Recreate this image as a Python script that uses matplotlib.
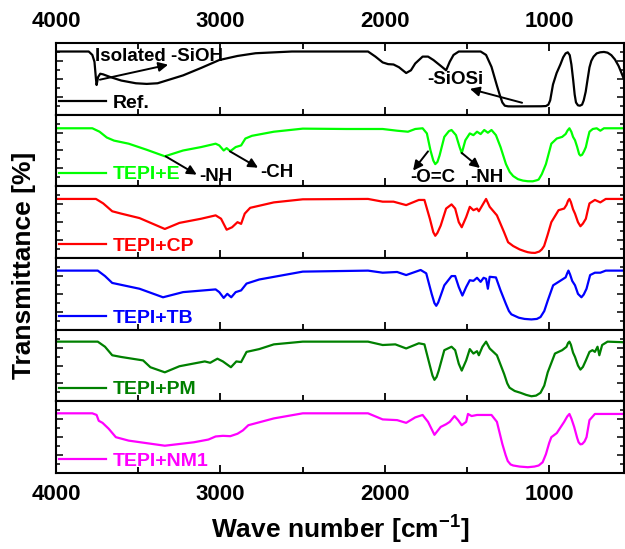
import matplotlib
matplotlib.use('Agg')
import matplotlib.pyplot as plt
from matplotlib.ticker import MultipleLocator
import numpy as np

plt.rcParams['font.family'] = ['Liberation Sans', 'DejaVu Sans']
plt.rcParams['font.weight'] = 'bold'
plt.rcParams['mathtext.fontset'] = 'custom'
plt.rcParams['mathtext.rm'] = 'Liberation Sans:bold'
plt.rcParams['mathtext.bf'] = 'Liberation Sans:bold'

# FTIR spectra as (wavenumber [cm-1], transmittance [arb. %]) pairs
ref = [(4000, 88.1), (3801, 88.1), (3779, 83.3), (3766, 73.8), (3757, 50.0), (3753, 41.4),
       (3744, 52.4), (3731, 57.1), (3713, 56.2), (3669, 52.4), (3603, 47.6), (3514, 43.8),
       (3448, 42.9), (3382, 43.8), (3227, 54.8), (3117, 65.2), (3007, 76.2), (2896, 81.9),
       (2786, 85.7), (2565, 88.1), (2102, 88.1), (2057, 81.0), (2013, 72.9), (1980, 70.5),
       (1947, 70.0), (1914, 66.2), (1870, 58.1), (1841, 61.9), (1815, 71.4), (1770, 81.0),
       (1737, 81.0), (1704, 76.2), (1660, 68.1), (1627, 61.9), (1605, 73.8), (1582, 83.3),
       (1550, 88.1), (1417, 88.1), (1384, 83.3), (1351, 66.7), (1330, 50.0), (1318, 40.5),
       (1300, 27.0), (1285, 17.0), (1270, 12.5), (1250, 11.6), (1219, 11.5), (1150, 11.6),
       (1050, 11.7), (1020, 12.0), (1005, 14.0), (994, 20.0), (977, 42.0), (955, 58.0),
       (932, 70.0), (915, 80.0), (900, 85.5), (887, 87.0), (875, 83.0), (865, 70.0),
       (854, 48.0), (845, 28.0), (837, 17.0), (825, 13.0), (813, 12.5), (800, 14.0),
       (790, 20.0), (778, 32.0), (766, 50.0), (755, 66.0), (744, 75.0), (730, 81.0),
       (711, 85.5), (690, 87.0), (667, 87.5), (645, 86.5), (622, 83.0), (600, 77.0),
       (578, 68.0), (560, 58.0), (539, 46.0)]

tepi_e = [(4000, 81.0), (3779, 81.0), (3735, 76.2), (3691, 68.1), (3647, 63.8), (3558, 59.5),
          (3448, 51.0), (3338, 41.9), (3227, 50.0), (3117, 54.8), (3029, 59.5), (3007, 57.1),
          (2980, 50.0), (2962, 53.3), (2940, 49.0), (2907, 54.8), (2874, 57.1), (2848, 66.7),
          (2808, 70.5), (2675, 76.2), (2499, 80.5), (2234, 80.0), (2013, 80.0), (1925, 77.6),
          (1859, 76.2), (1815, 80.0), (1770, 81.0), (1744, 73.8), (1722, 50.0), (1705, 36.0),
          (1693, 31.0), (1680, 34.0), (1667, 42.9), (1638, 69.0), (1610, 77.0), (1594, 78.6),
          (1567, 71.4), (1545, 54.8), (1532, 46.2), (1510, 64.3), (1483, 73.8), (1461, 71.4),
          (1439, 76.2), (1417, 72.9), (1395, 78.6), (1373, 74.8), (1351, 78.6), (1324, 71.4),
          (1296, 54.8), (1263, 31.0), (1240, 20.0), (1219, 14.3), (1190, 10.0), (1160, 8.0),
          (1130, 7.1), (1100, 7.0), (1075, 8.5), (1064, 9.5), (1045, 17.0), (1020, 31.0),
          (987, 59.5), (954, 66.7), (921, 69.0), (900, 73.0), (888, 78.0), (877, 81.0),
          (865, 76.0), (855, 69.0), (843, 64.3), (830, 55.0), (818, 45.0), (810, 42.9),
          (800, 44.0), (788, 49.0), (777, 54.8), (766, 66.0), (755, 76.2), (735, 80.0),
          (711, 81.0), (689, 77.6), (667, 81.0), (539, 81.0)]

tepi_cp = [(4000, 82.4), (3757, 82.4), (3713, 76.2), (3658, 65.2), (3603, 61.9), (3492, 55.7),
           (3338, 40.5), (3249, 49.0), (3117, 54.8), (3029, 59.5), (2996, 54.8), (2962, 39.5),
           (2929, 42.9), (2896, 50.0), (2874, 47.6), (2852, 61.9), (2819, 70.0), (2675, 77.6),
           (2499, 81.9), (2102, 82.4), (2013, 78.6), (1947, 78.6), (1870, 73.8), (1793, 81.0),
           (1759, 81.0), (1726, 54.8), (1705, 36.0), (1693, 31.0), (1680, 35.0), (1660, 45.2),
           (1627, 69.0), (1594, 74.8), (1572, 69.0), (1550, 50.0), (1532, 42.9), (1505, 57.1),
           (1483, 71.4), (1461, 66.7), (1439, 69.0), (1428, 65.2), (1406, 73.8), (1384, 82.4),
           (1362, 71.4), (1318, 59.5), (1274, 35.7), (1250, 22.0), (1219, 16.7), (1180, 12.0),
           (1150, 9.5), (1130, 8.1), (1108, 7.3), (1086, 7.1), (1060, 9.0), (1045, 12.0),
           (1031, 16.7), (1010, 32.0), (987, 50.0), (943, 66.7), (909, 69.0), (895, 74.0),
           (885, 80.0), (877, 82.4), (868, 78.0), (855, 68.0), (843, 61.9), (825, 50.0),
           (810, 44.3), (795, 48.0), (777, 54.8), (766, 66.0), (755, 76.2), (722, 81.0),
           (689, 77.6), (656, 82.4), (539, 82.4)]

tepi_tb = [(4000, 82.4), (3746, 82.4), (3702, 74.8), (3658, 65.2), (3492, 57.1), (3349, 45.2),
           (3227, 52.4), (3029, 56.2), (3007, 52.4), (2980, 44.3), (2958, 50.0), (2934, 45.2),
           (2907, 52.4), (2874, 54.8), (2841, 64.3), (2764, 70.0), (2499, 81.0), (2102, 82.4),
           (2013, 79.5), (1925, 80.5), (1870, 76.2), (1782, 83.3), (1748, 78.6), (1715, 50.0),
           (1698, 37.0), (1687, 33.3), (1675, 38.0), (1660, 47.6), (1638, 61.9), (1594, 74.8),
           (1572, 74.8), (1550, 59.5), (1528, 47.6), (1505, 59.5), (1483, 69.0), (1461, 68.1),
           (1439, 72.4), (1417, 66.7), (1399, 72.4), (1384, 71.0), (1373, 57.1), (1362, 73.8),
           (1324, 72.9), (1296, 54.8), (1263, 35.7), (1245, 26.0), (1230, 21.4), (1185, 16.7),
           (1150, 15.0), (1108, 14.3), (1075, 15.0), (1053, 17.6), (1030, 26.0), (1009, 40.5),
           (976, 61.9), (943, 66.7), (900, 73.0), (890, 79.0), (883, 82.4), (873, 77.0),
           (860, 68.0), (843, 61.9), (825, 50.0), (804, 45.2), (790, 49.0), (773, 57.1),
           (751, 76.2), (722, 79.5), (689, 79.5), (656, 82.4), (539, 82.4)]

tepi_pm = [(4000, 83.3), (3746, 83.3), (3702, 76.2), (3658, 64.3), (3603, 61.9), (3470, 57.1),
           (3426, 47.6), (3338, 40.5), (3249, 49.0), (3095, 55.7), (3062, 53.8), (3040, 56.7),
           (3018, 59.5), (2985, 55.7), (2936, 47.6), (2903, 55.7), (2874, 54.8), (2841, 69.0),
           (2764, 72.9), (2675, 79.5), (2499, 83.3), (2102, 83.3), (2013, 78.6), (1936, 79.5),
           (1870, 73.8), (1793, 81.0), (1759, 79.5), (1726, 50.0), (1710, 36.0), (1698, 30.0),
           (1685, 34.0), (1672, 42.9), (1638, 71.4), (1594, 76.2), (1572, 71.4), (1550, 52.4),
           (1532, 42.9), (1505, 57.1), (1483, 72.9), (1461, 66.7), (1439, 70.0), (1428, 64.3),
           (1406, 76.2), (1384, 83.3), (1362, 73.8), (1318, 64.3), (1274, 38.1), (1255, 25.0),
           (1241, 19.0), (1210, 14.5), (1174, 11.9), (1140, 9.0), (1108, 7.1), (1080, 8.0),
           (1053, 11.9), (1030, 22.0), (1009, 40.5), (965, 66.7), (921, 71.4), (895, 76.0),
           (885, 81.5), (877, 83.3), (868, 79.0), (855, 68.0), (843, 61.9), (825, 50.0),
           (810, 44.3), (795, 48.0), (777, 57.1), (755, 69.0), (737, 71.4), (722, 69.0),
           (706, 76.2), (695, 64.3), (678, 78.6), (645, 83.3), (539, 82.4)]

tepi_nm1 = [(4000, 83.3), (3779, 83.3), (3753, 81.0), (3740, 72.9), (3717, 70.0), (3680, 61.9),
            (3636, 50.0), (3558, 45.2), (3338, 38.1), (3161, 42.9), (3073, 46.7), (3029, 51.0),
            (2985, 51.9), (2940, 51.4), (2896, 54.8), (2863, 59.5), (2830, 66.7), (2675, 76.2),
            (2499, 83.3), (2102, 83.3), (2013, 74.8), (1925, 73.8), (1870, 70.0), (1815, 77.6),
            (1770, 81.0), (1737, 71.4), (1698, 53.3), (1660, 64.3), (1627, 68.1), (1605, 71.4),
            (1576, 79.5), (1554, 73.8), (1532, 66.7), (1505, 71.4), (1494, 82.4), (1472, 79.5),
            (1439, 81.0), (1351, 81.0), (1318, 71.4), (1285, 40.5), (1265, 25.0), (1252, 16.7),
            (1235, 12.0), (1219, 10.5), (1180, 9.0), (1130, 8.1), (1090, 9.0), (1064, 10.5),
            (1040, 15.0), (1020, 26.2), (1000, 42.0), (987, 50.0), (954, 55.7), (909, 71.4),
            (890, 79.0), (877, 82.4), (865, 76.0), (848, 64.3), (830, 49.0), (821, 42.9),
            (810, 40.0), (799, 40.5), (785, 44.0), (773, 50.0), (755, 73.8), (722, 82.4),
            (539, 82.4)]

labels = ['Ref.', 'TEPI+E', 'TEPI+CP', 'TEPI+TB', 'TEPI+PM', 'TEPI+NM1']
colors = ['black', '#00ff00', '#ff0000', '#0000ff', '#008000', '#ff00ff']
spectra = [ref, tepi_e, tepi_cp, tepi_tb, tepi_pm, tepi_nm1]

fig, axes = plt.subplots(6, 1, sharex=True, figsize=(6.25, 5.49), dpi=100,
                         gridspec_kw=dict(hspace=0))
fig.subplots_adjust(left=0.0896, right=0.9984, bottom=0.1384, top=0.9217)

for i, ax in enumerate(axes):
    wn, t = np.array(spectra[i]).T
    ax.plot(wn, t, color=colors[i], lw=1.6, label=labels[i], solid_joinstyle='round')
    ax.set_xlim(4000, 545)
    ax.set_ylim(0, 100)
    ax.xaxis.set_major_locator(MultipleLocator(1000))
    ax.xaxis.set_minor_locator(MultipleLocator(500))
    ax.yaxis.set_major_locator(MultipleLocator(25))
    ax.yaxis.set_minor_locator(MultipleLocator(12.5))
    ax.tick_params(axis='x', which='both', direction='in', top=(i == 0), bottom=True,
                   labeltop=(i == 0), labelbottom=(i == 5), labelsize=16, pad=8, width=1.3)
    ax.tick_params(axis='x', which='major', length=6)
    ax.tick_params(axis='x', which='minor', length=4)
    ax.tick_params(axis='y', which='both', direction='in', left=True, right=True,
                   labelleft=False, width=1.1)
    ax.tick_params(axis='y', which='major', length=5)
    ax.tick_params(axis='y', which='minor', length=3)
    for s in ax.spines.values():
        s.set_linewidth(1.5)
    ax.legend(loc='lower left', frameon=False, handlelength=2.4, handletextpad=0.35,
              borderaxespad=0, borderpad=0.15, labelcolor='linecolor',
              prop=dict(size=14, weight='bold'))

arrow = dict(arrowstyle='-|>', color='black', lw=1.4, mutation_scale=14,
             shrinkA=0, shrinkB=0)
ann = dict(fontsize=13.5, fontweight='bold', color='black', va='center')

# Ref. panel
axes[0].annotate('', xy=(3318, 69.7), xytext=(3733, 48.8), arrowprops=arrow)
axes[0].text(3371, 81, 'Isolated -SiOH', ha='center', **ann)
axes[0].annotate('', xy=(1482, 36.0), xytext=(1165, 16.6), arrowprops=arrow)
axes[0].text(1573, 48.5, '-SiOSi', ha='center', **ann)

# TEPI+E panel
axes[1].annotate('', xy=(3144, 16.3), xytext=(3333, 41.8), arrowprops=arrow)
axes[1].text(3130, 14, '-NH', ha='left', **ann)
axes[1].annotate('', xy=(2771, 26.0), xytext=(2942, 48.8), arrowprops=arrow)
axes[1].text(2759, 19.5, '-CH', ha='left', **ann)
axes[1].annotate('', xy=(1828, 22.0), xytext=(1737, 48.8), arrowprops=arrow)
axes[1].text(1707, 11.7, '-O=C', ha='center', **ann)
axes[1].annotate('', xy=(1421, 25.6), xytext=(1532, 46.6), arrowprops=arrow)
axes[1].text(1380, 11.7, '-NH', ha='center', **ann)

fig.text(0.038, 0.517, 'Transmittance [%]', rotation=90, ha='center', va='center',
         fontsize=19, fontweight='bold')
fig.text(0.544, 0.038, 'Wave number [cm$^{\\mathbf{-1}}$]', ha='center', va='center',
         fontsize=19, fontweight='bold')

fig.savefig('out.png', dpi=100)
